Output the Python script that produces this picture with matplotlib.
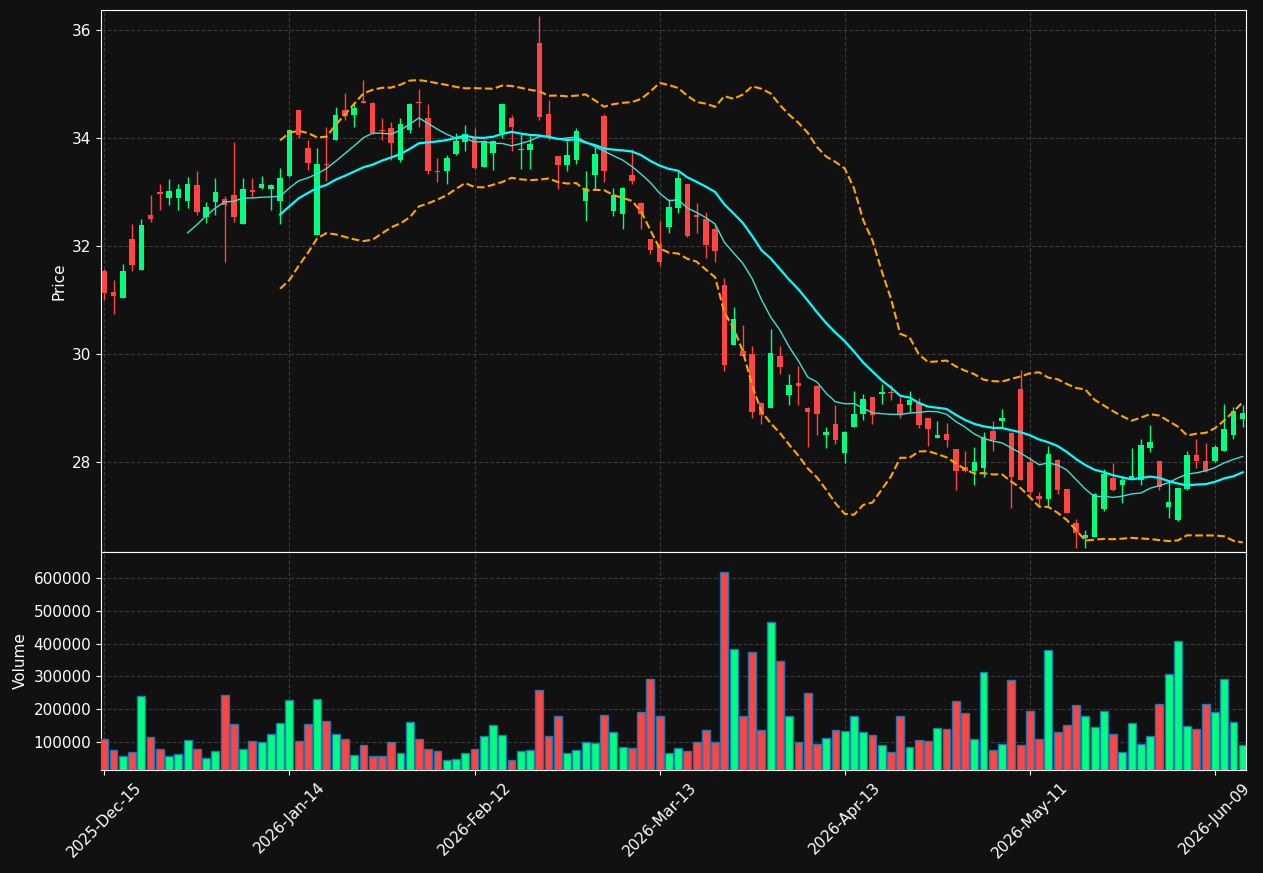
import numpy as np
import pandas as pd
import matplotlib
matplotlib.use("Agg")
import matplotlib.pyplot as plt

# daily OHLC (124 NYSE sessions from 2025-12-15)
opens = [31.54, 31.15, 31.03, 32.12, 31.55, 32.57, 32.99, 32.88, 32.88, 32.84,
         33.12, 32.53, 32.81, 32.87, 32.95, 32.40, 33.04, 33.07, 33.05, 32.83,
         33.29, 34.51, 33.82, 32.21, 33.52, 33.97, 34.51, 34.42, 34.68, 34.65,
         34.15, 34.19, 33.60, 34.14, 34.67, 34.36, 33.39, 33.39, 33.71, 33.92,
         34.00, 33.47, 33.73, 34.09, 34.36, 33.78, 33.77, 35.76, 34.45, 33.67,
         33.49, 33.59, 32.84, 33.31, 34.41, 32.65, 32.60, 33.32, 32.80, 32.13,
         32.04, 32.35, 32.71, 33.14, 32.58, 32.49, 32.32, 31.28, 30.16, 30.06,
         29.99, 29.09, 29.00, 29.97, 29.23, 29.47, 29.00, 29.41, 28.49, 28.71,
         28.16, 28.64, 28.88, 29.21, 29.25, 29.29, 29.08, 29.06, 29.09, 28.81,
         28.45, 28.51, 28.23, 27.91, 27.83, 27.88, 28.58, 28.75, 28.54, 29.35,
         28.00, 27.36, 27.31, 28.04, 27.49, 26.87, 26.59, 26.61, 27.12, 27.71,
         27.57, 27.70, 27.67, 28.25, 28.01, 27.17, 26.92, 27.49, 28.12, 28.01,
         28.01, 28.21, 28.49, 28.80]
highs = [31.57, 31.37, 31.67, 32.41, 32.50, 32.95, 33.14, 33.24, 33.14, 33.27,
         33.39, 32.82, 33.26, 32.93, 33.93, 33.26, 33.26, 33.30, 33.15, 33.44,
         34.16, 34.51, 33.97, 33.81, 34.20, 34.57, 34.83, 34.62, 35.08, 34.66,
         34.37, 34.30, 34.37, 34.65, 34.91, 34.63, 33.63, 33.69, 34.09, 34.24,
         34.19, 33.96, 33.97, 34.62, 34.43, 34.08, 34.04, 36.26, 34.71, 33.67,
         33.94, 34.19, 33.38, 33.84, 34.44, 33.07, 33.10, 33.80, 32.81, 32.13,
         32.47, 32.86, 33.37, 33.15, 32.80, 32.62, 32.39, 31.41, 30.87, 30.53,
         30.14, 29.10, 30.47, 30.15, 29.62, 29.78, 29.01, 29.42, 28.65, 29.06,
         28.57, 29.31, 29.26, 29.21, 29.45, 29.43, 29.21, 29.31, 29.19, 28.82,
         28.76, 28.72, 28.24, 28.21, 28.28, 28.56, 28.76, 28.98, 28.55, 29.71,
         28.09, 27.45, 28.30, 28.05, 27.50, 26.94, 26.73, 27.42, 27.87, 27.98,
         27.73, 28.26, 28.43, 28.69, 28.02, 27.67, 27.52, 28.20, 28.43, 28.35,
         28.31, 29.08, 29.01, 29.06]
lows = [30.99, 30.74, 31.03, 31.53, 31.55, 32.45, 32.66, 32.76, 32.66, 32.71,
        32.57, 32.43, 32.57, 31.71, 32.44, 32.40, 32.91, 33.06, 32.67, 32.41,
        33.28, 34.00, 33.41, 32.21, 33.20, 33.97, 34.34, 34.20, 34.64, 34.08,
        33.96, 33.59, 33.56, 34.09, 34.20, 33.33, 33.18, 33.14, 33.69, 33.76,
        33.43, 33.47, 33.41, 34.00, 33.76, 33.43, 33.43, 34.34, 33.96, 33.06,
        33.38, 33.51, 32.47, 33.04, 33.18, 32.55, 32.31, 33.14, 32.31, 31.85,
        31.62, 32.24, 32.61, 32.17, 32.24, 31.78, 31.70, 29.69, 30.16, 29.97,
        28.81, 28.70, 29.00, 29.63, 29.05, 29.05, 28.28, 28.49, 28.26, 28.33,
        27.98, 28.64, 28.78, 28.70, 29.07, 29.15, 28.81, 28.92, 28.62, 28.29,
        28.44, 28.28, 27.47, 27.82, 27.57, 27.72, 28.21, 28.63, 27.15, 27.66,
        27.38, 27.17, 27.18, 27.41, 27.05, 26.41, 26.41, 26.60, 27.09, 27.46,
        27.24, 27.69, 27.58, 28.19, 27.47, 26.96, 26.91, 27.48, 27.89, 27.81,
        28.00, 28.20, 28.43, 28.65]
closes = [31.12, 31.08, 31.54, 31.64, 32.38, 32.49, 32.96, 33.01, 33.06, 33.14,
          32.62, 32.73, 32.99, 32.75, 32.53, 33.06, 32.99, 33.14, 33.13, 33.26,
          34.15, 34.06, 33.53, 33.51, 33.49, 34.43, 34.41, 34.56, 34.65, 34.10,
          34.13, 33.90, 34.26, 34.63, 34.64, 33.38, 33.36, 33.62, 33.95, 34.07,
          33.44, 33.95, 33.95, 34.62, 34.20, 33.80, 33.89, 34.38, 34.03, 33.49,
          33.69, 34.12, 33.07, 33.71, 33.38, 32.95, 33.08, 33.21, 32.60, 31.93,
          31.71, 32.73, 33.26, 32.18, 32.53, 32.01, 31.90, 29.80, 30.65, 29.97,
          28.92, 28.86, 30.01, 29.75, 29.43, 29.40, 28.92, 28.88, 28.56, 28.40,
          28.56, 28.89, 29.17, 28.86, 29.29, 29.28, 28.88, 29.15, 28.68, 28.60,
          28.49, 28.41, 27.84, 27.83, 28.00, 28.46, 28.40, 28.81, 27.72, 27.67,
          27.44, 27.31, 28.15, 27.47, 27.06, 26.69, 26.64, 27.41, 27.78, 27.47,
          27.67, 27.73, 28.31, 28.36, 27.53, 27.26, 27.51, 28.12, 28.01, 27.84,
          28.27, 28.61, 28.95, 28.91]
volumes = [109000, 75000, 56000, 69000, 241000, 115000, 78500, 57000, 63000, 106000,
           78500, 51000, 72000, 244000, 155000, 78500, 103000, 98000, 124500, 158000,
           226000, 103000, 155000, 232000, 164000, 124500, 109000, 60000, 91000, 57000,
           57000, 98000, 66000, 161000, 109000, 78500, 72000, 45000, 48000, 66000,
           78500, 118000, 152000, 121000, 45000, 72000, 75000, 259500, 118000, 180000,
           66000, 75000, 100000, 97000, 183000, 131000, 85000, 82000, 192000, 293000,
           177000, 66000, 81500, 72000, 98000, 137000, 100000, 618000, 382000, 177600,
           373000, 137000, 465000, 348000, 177000, 98000, 250000, 94000, 112000, 137000,
           134000, 177000, 131000, 121000, 91000, 69000, 180000, 85000, 106000, 103000,
           143000, 140000, 223000, 189000, 109000, 311500, 75000, 94000, 290000, 91000,
           195000, 109000, 379000, 131000, 152000, 213000, 180000, 146000, 195000, 124500,
           69000, 158000, 94000, 118000, 216500, 305500, 407000, 149000, 140000, 216500,
           192000, 293000, 161000, 91000]

holidays = ["2025-12-25", "2026-01-01", "2026-01-19", "2026-02-16",
            "2026-04-03", "2026-05-25", "2026-06-19"]
dates = pd.bdate_range("2025-12-15", periods=len(closes), freq="C", holidays=holidays)

df = pd.DataFrame({"Open": opens, "High": highs, "Low": lows,
                   "Close": closes, "Volume": volumes}, index=dates)
df["SMA10"] = df["Close"].rolling(10).mean()
df["SMA20"] = df["Close"].rolling(20).mean()
std20 = df["Close"].rolling(20).std()
df["Upper"] = df["SMA20"] + 2 * std20
df["Lower"] = df["SMA20"] - 2 * std20

bg = "#111111"
up_col = "#00ff7f"
down_col = "#ff4444"

fig = plt.figure(figsize=(12.63, 8.73), dpi=100, facecolor=bg)
gs = fig.add_gridspec(2, 1, height_ratios=[542, 218], hspace=0,
                      left=0.08, right=0.9865, top=0.9885, bottom=0.118)
ax = fig.add_subplot(gs[0])
ax_vol = fig.add_subplot(gs[1], sharex=ax)

x = np.arange(len(df))
colors = [up_col if c >= o else down_col for o, c in zip(df["Open"], df["Close"])]

# candles
ax.vlines(x, df["Low"], df["High"], colors=colors, linewidth=1, zorder=3)
ax.bar(x, df["Close"] - df["Open"], bottom=df["Open"], width=0.6,
       color=colors, zorder=4)

ax.plot(x, df["SMA10"], color="#40e0d0", linewidth=1, zorder=5)
ax.plot(x, df["SMA20"], color="#00ffff", linewidth=1.6, zorder=5)
ax.plot(x, df["Upper"], color="#ffa500", linestyle="--", linewidth=1.5, zorder=5)
ax.plot(x, df["Lower"], color="#ffa500", linestyle="--", linewidth=1.5, zorder=5)

ax.set_ylim(df["Low"].min() * 0.997, df["High"].max() * 1.003)
ax.set_ylabel("Price", color="white", fontsize=11)

# volume
ax_vol.bar(x, df["Volume"], width=0.85, color=colors, edgecolor="#1f77b4",
           linewidth=1, zorder=3)
ax_vol.set_ylim(df["Volume"].min() * 0.3, df["Volume"].max() * 1.1)
ax_vol.set_ylabel("Volume", color="white", fontsize=11)
ax_vol.ticklabel_format(axis="y", style="plain")

tick_pos = x[::20]
ax_vol.set_xticks(tick_pos)
ax_vol.set_xticklabels(df.index[::20].strftime("%Y-%b-%d"), rotation=45)
ax_vol.set_xlim(-0.35, len(df) - 0.65)
plt.setp(ax.get_xticklabels(), visible=False)

for a in (ax, ax_vol):
    a.set_facecolor(bg)
    a.grid(True, color="gray", linestyle="--", linewidth=0.8, alpha=0.35)
    a.set_axisbelow(True)
    a.tick_params(colors="white", labelsize=11)
    for s in a.spines.values():
        s.set_color("white")

plt.savefig("out.png", dpi=100, facecolor=bg)
